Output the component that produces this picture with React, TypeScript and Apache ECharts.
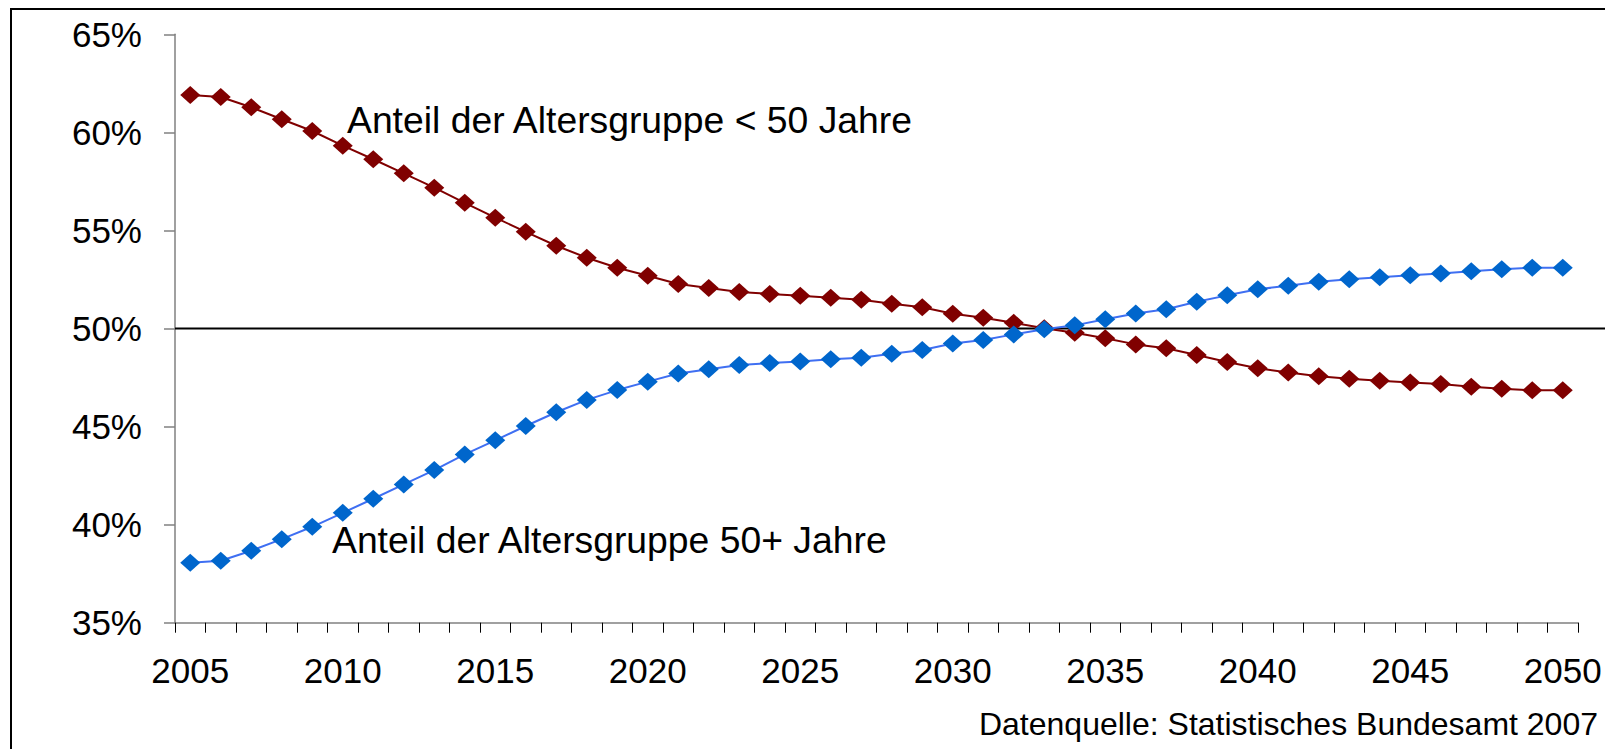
import React, { useEffect, useRef } from "react";
import * as echarts from "echarts";

const years: string[] = [
  "2005","2006","2007","2008","2009","2010","2011","2012","2013","2014",
  "2015","2016","2017","2018","2019","2020","2021","2022","2023","2024",
  "2025","2026","2027","2028","2029","2030","2031","2032","2033","2034",
  "2035","2036","2037","2038","2039","2040","2041","2042","2043","2044",
  "2045","2046","2047","2048","2049","2050",
];

const under50: number[] = [
  61.9, 61.8, 61.28, 60.67, 60.07, 59.32, 58.63, 57.91, 57.18, 56.41,
  55.65, 54.93, 54.22, 53.61, 53.1, 52.69, 52.27, 52.06, 51.86, 51.76,
  51.67, 51.57, 51.47, 51.26, 51.08, 50.75, 50.55, 50.29, 50.01, 49.78,
  49.5, 49.19, 48.99, 48.65, 48.29, 47.97, 47.76, 47.56, 47.44, 47.34,
  47.25, 47.17, 47.03, 46.93, 46.85, 46.85,
];

const over50: number[] = [
  38.06, 38.16, 38.67, 39.26, 39.89, 40.6, 41.32, 42.05, 42.78, 43.58,
  44.3, 45.03, 45.73, 46.36, 46.86, 47.29, 47.71, 47.92, 48.14, 48.24,
  48.32, 48.43, 48.51, 48.71, 48.9, 49.24, 49.41, 49.7, 49.96, 50.16,
  50.47, 50.77, 50.98, 51.36, 51.69, 52.0, 52.18, 52.38, 52.51, 52.61,
  52.71, 52.81, 52.92, 53.02, 53.1, 53.1,
];

const yTicks = { min: 35, max: 65, interval: 5 };
const referenceValue = 50;

const labelUnder = "Anteil der Altersgruppe < 50 Jahre";
const labelOver = "Anteil der Altersgruppe 50+ Jahre";
const sourceText = "Datenquelle: Statistisches Bundesamt 2007";

const FONT = "Arial, 'Liberation Sans', Helvetica, sans-serif";

export default function App() {
  const ref = useRef<HTMLDivElement>(null);

  useEffect(() => {
    document.body.style.margin = "0";
    if (!ref.current) return;
    const chart = echarts.init(ref.current, undefined, { renderer: "svg" });
    const axisGray = "#808080";
    chart.setOption({
      animation: false,
      backgroundColor: "#ffffff",
      grid: { left: 175, right: 27, top: 34.3, bottom: 126.3, containLabel: false },
      xAxis: {
        type: "category",
        data: years,
        boundaryGap: true,
        axisLine: { lineStyle: { color: axisGray, width: 1.5 } },
        axisTick: { show: true, interval: 0, length: 10, lineStyle: { color: "#000", width: 1 } },
        axisLabel: {
          interval: 4,
          margin: 30,
          color: "#000",
          fontSize: 35,
          fontFamily: FONT,
        },
        splitLine: { show: false },
      },
      yAxis: {
        type: "value",
        min: yTicks.min,
        max: yTicks.max,
        interval: yTicks.interval,
        axisLine: { show: true, lineStyle: { color: axisGray, width: 1.5 } },
        axisTick: { show: true, length: 11, lineStyle: { color: axisGray, width: 1.5 } },
        axisLabel: {
          formatter: "{value}%",
          margin: 33,
          color: "#000",
          fontSize: 35,
          fontFamily: FONT,
        },
        splitLine: { show: false },
      },
      series: [
        {
          name: labelUnder,
          type: "line",
          data: under50,
          symbol: "diamond",
          symbolSize: [20, 18],
          lineStyle: { color: "#800000", width: 2 },
          itemStyle: { color: "#800000" },
          z: 3,
        },
        {
          name: labelOver,
          type: "line",
          data: over50,
          symbol: "diamond",
          symbolSize: [20, 18],
          lineStyle: { color: "#3f6ff2", width: 2 },
          itemStyle: { color: "#0066cc" },
          z: 4,
        },
      ],
    });

    const y50 = chart.convertToPixel({ yAxisIndex: 0 }, referenceValue) as number;
    const xStart = chart.convertToPixel({ xAxisIndex: 0 }, years[0]) as number;
    const halfBand = 1402.7 / years.length / 2;

    chart.setOption({
      graphic: [
        {
          type: "rect",
          shape: { x: 11, y: 9, width: 1700, height: 900 },
          style: { fill: "none", stroke: "#000", lineWidth: 2 },
          z: 0,
          silent: true,
        },
        {
          type: "line",
          shape: { x1: xStart - halfBand, y1: y50, x2: 1605, y2: y50 },
          style: { stroke: "#000", lineWidth: 2 },
          z: 1,
          silent: true,
        },
        {
          type: "text",
          x: 347,
          y: 120,
          style: {
            text: labelUnder,
            fontSize: 37.3,
            fontFamily: FONT,
            fill: "#000",
            align: "left",
            verticalAlign: "middle",
          },
          z: 10,
        },
        {
          type: "text",
          x: 332,
          y: 540,
          style: {
            text: labelOver,
            fontSize: 37.3,
            fontFamily: FONT,
            fill: "#000",
            align: "left",
            verticalAlign: "middle",
          },
          z: 10,
        },
        {
          type: "text",
          x: 1598,
          y: 723.5,
          style: {
            text: sourceText,
            fontSize: 32,
            fontFamily: FONT,
            fill: "#000",
            align: "right",
            verticalAlign: "middle",
          },
          z: 10,
        },
      ],
    });

    return () => chart.dispose();
  }, []);

  return <div ref={ref} style={{ width: 1605, height: 749 }} />;
}
